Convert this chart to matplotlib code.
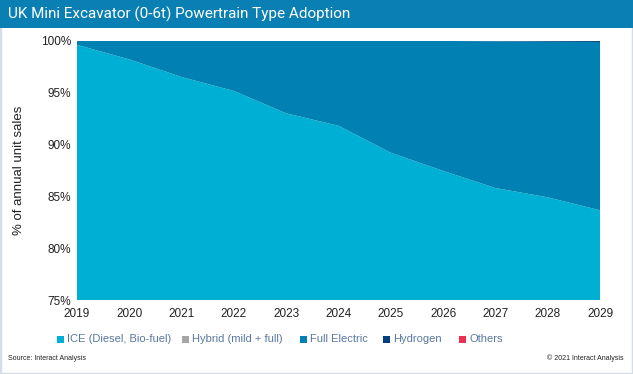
import matplotlib
matplotlib.use("Agg")
import matplotlib.pyplot as plt
from matplotlib.patches import Rectangle
import numpy as np

years = [2019, 2020, 2021, 2022, 2023, 2024, 2025, 2026, 2027, 2028, 2029]
ice = [99.6, 98.2, 96.5, 95.15, 93.0, 91.8, 89.2, 87.45, 85.8, 84.9, 83.65]
hybrid = [0, 0, 0, 0, 0, 0, 0, 0, 0, 0, 0]
hydrogen = [0, 0, 0, 0, 0, 0, 0, 0.02, 0.06, 0.1, 0.12]
others = [0, 0, 0, 0, 0, 0, 0, 0, 0, 0, 0]
full_electric = [100 - a - b - c - d for a, b, c, d in zip(ice, hybrid, hydrogen, others)]

series_names = ["ICE (Diesel, Bio-fuel)", "Hybrid (mild + full)", "Full Electric", "Hydrogen", "Others"]
colors = ["#00B0D4", "#A6A6A6", "#0080B3", "#003F7F", "#EE2F52"]
yticks = [75, 80, 85, 90, 95, 100]

W, H = 633, 374
fig = plt.figure(figsize=(W / 100, H / 100), dpi=100)
fig.patch.set_facecolor("white")

# frame
fig.patches.append(Rectangle((0, 0), 1, 1, transform=fig.transFigure, fill=False,
                             edgecolor="#D5DEE6", linewidth=2.5, zorder=0))
# banner
fig.patches.append(Rectangle((0, 1 - 28 / H), 1, 28 / H, transform=fig.transFigure,
                             facecolor="#0A7FB4", edgecolor="none", zorder=1))
fig.text(8 / W, 1 - 14.5 / H, "UK Mini Excavator (0-6t) Powertrain Type Adoption",
         color="white", fontsize=11, va="center", ha="left",
         family=["Liberation Sans Narrow", "Roboto", "DejaVu Sans"])

ax = fig.add_axes([77 / W, 1 - 300 / H, (600 - 77) / W, (300 - 40.7) / H])
ax.stackplot(years, ice, hybrid, full_electric, hydrogen, others, colors=colors,
             linewidth=0, antialiased=True)
ax.set_xlim(2019, 2029)
ax.set_ylim(75, 100)
ax.set_xticks(years)
ax.set_xticklabels([str(y) for y in years])
ax.set_yticks(yticks)
ax.set_yticklabels([f"{v}%" for v in yticks])
for s in ax.spines.values():
    s.set_visible(False)
ax.tick_params(axis="both", length=0, labelsize=8.5, labelcolor="#222222")
ax.tick_params(axis="x", pad=6)
ax.tick_params(axis="y", pad=4)
for lab in ax.get_xticklabels() + ax.get_yticklabels():
    lab.set_family(["Liberation Sans", "DejaVu Sans"])
ax.set_ylabel("% of annual unit sales", fontsize=9.5, color="#222222",
              family=["Liberation Sans", "DejaVu Sans"], labelpad=12)

# legend
legend_x = [57, 182, 300, 383, 459]
ly = 1 - 339 / H
for x, name, c in zip(legend_x, series_names, colors):
    fig.patches.append(Rectangle((x / W, ly - 3.5 / H), 7 / W, 7 / H, transform=fig.transFigure,
                                 facecolor=c, edgecolor="none"))
    fig.text((x + 10) / W, ly, name, fontsize=8, color="#5A78A0", va="center", ha="left",
             family=["Liberation Sans", "DejaVu Sans"])

fig.text(8 / W, 1 - 358 / H, "Source: Interact Analysis", fontsize=5, color="#222222",
         va="center", ha="left", family=["Liberation Sans", "DejaVu Sans"])
fig.text(624 / W, 1 - 358 / H, "\u00a9 2021 Interact Analysis", fontsize=5, color="#222222",
         va="center", ha="right", family=["Liberation Sans", "DejaVu Sans"])

fig.savefig("out.png", dpi=100)
